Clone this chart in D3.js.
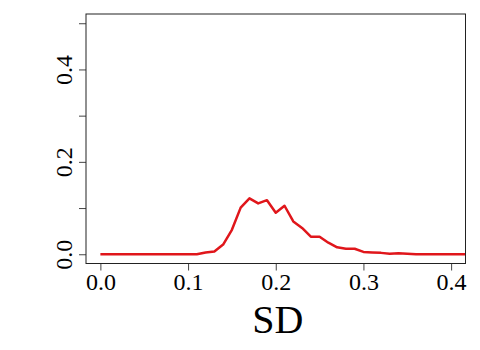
<!DOCTYPE html>
<html>
<head>
<meta charset="utf-8">
<script src="https://cdn.jsdelivr.net/npm/d3@7"></script>
<style>
  html, body { margin: 0; padding: 0; background: #fff; }
  svg { display: block; }
</style>
</head>
<body>
<svg id="chart" width="480" height="350"></svg>
<script>
const sdValues = [0.00, 0.01, 0.02, 0.03, 0.04, 0.05, 0.06, 0.07, 0.08, 0.09,
                  0.10, 0.11, 0.12, 0.13, 0.14, 0.15, 0.16, 0.17, 0.18, 0.19,
                  0.20, 0.21, 0.22, 0.23, 0.24, 0.25, 0.26, 0.27, 0.28, 0.29,
                  0.30, 0.31, 0.32, 0.33, 0.34, 0.35, 0.36, 0.37, 0.38, 0.39,
                  0.40, 0.41, 0.42];
const density = [0, 0, 0, 0, 0, 0, 0, 0, 0, 0,
                 0, 0, 0.004, 0.006, 0.021, 0.053, 0.101, 0.121, 0.110, 0.117,
                 0.090, 0.105, 0.071, 0.057, 0.038, 0.038, 0.025, 0.015, 0.012, 0.012,
                 0.005, 0.004, 0.003, 0.001, 0.002, 0.001, 0, 0, 0, 0,
                 0, 0, 0];
const xTicks = [0.0, 0.1, 0.2, 0.3, 0.4];
const xTickLabels = ["0.0", "0.1", "0.2", "0.3", "0.4"];
const yTicks = [0.0, 0.1, 0.2, 0.3, 0.4, 0.5];
const yTickLabels = ["0.0", "", "0.2", "", "0.4", ""];
const xTitle = "SD";

const svg = d3.select("#chart");
const pL = 86, pR = 465.5, pT = 14, pB = 263.5;
const font = "'Liberation Serif', 'Times New Roman', serif";

const x = d3.scaleLinear().domain([-0.0164, 0.4164]).range([pL, pR]);
const y = d3.scaleLinear().domain([-0.02, 0.52]).range([pB, pT]);

svg.append("defs").append("clipPath").attr("id", "clip")
  .append("rect").attr("x", pL).attr("y", pT)
  .attr("width", pR - pL).attr("height", pB - pT);

// line
const line = d3.line().x((d, i) => x(sdValues[i])).y(d => y(d));
svg.append("path")
  .datum(density)
  .attr("clip-path", "url(#clip)")
  .attr("d", line)
  .attr("fill", "none")
  .attr("stroke", "#e0161b")
  .attr("stroke-width", 2.5)
  .attr("stroke-linejoin", "round");

// x axis
const xAxis = d3.axisBottom(x).tickValues(xTicks)
  .tickFormat((d, i) => xTickLabels[i]).tickSize(7).tickPadding(3);
const gx = svg.append("g").attr("transform", `translate(0,${pB})`).call(xAxis);
gx.select(".domain").remove();
gx.selectAll(".tick line").attr("stroke", "#444");
gx.selectAll(".tick text")
  .attr("font-family", font).attr("font-size", 24).attr("fill", "#000")
  .attr("dy", null).attr("y", 26);

// y axis
const yAxis = d3.axisLeft(y).tickValues(yTicks)
  .tickFormat((d, i) => yTickLabels[i]).tickSize(7);
const gy = svg.append("g").attr("transform", `translate(${pL},0)`).call(yAxis);
gy.select(".domain").remove();
gy.selectAll(".tick line").attr("stroke", "#444");
gy.selectAll(".tick text")
  .attr("font-family", font).attr("font-size", 24).attr("fill", "#000")
  .attr("x", null).attr("dy", null)
  .attr("text-anchor", "middle")
  .attr("transform", "translate(-14.5,0) rotate(-90)");

// box
svg.append("rect")
  .attr("x", pL).attr("y", pT)
  .attr("width", pR - pL).attr("height", pB - pT)
  .attr("fill", "none").attr("stroke", "#222").attr("stroke-width", 1);

// x title
svg.append("text")
  .attr("x", (pL + pR) / 2 + 2)
  .attr("y", 333)
  .attr("text-anchor", "middle")
  .attr("font-family", font)
  .attr("font-size", 40)
  .attr("fill", "#000")
  .text(xTitle);
</script>
</body>
</html>
